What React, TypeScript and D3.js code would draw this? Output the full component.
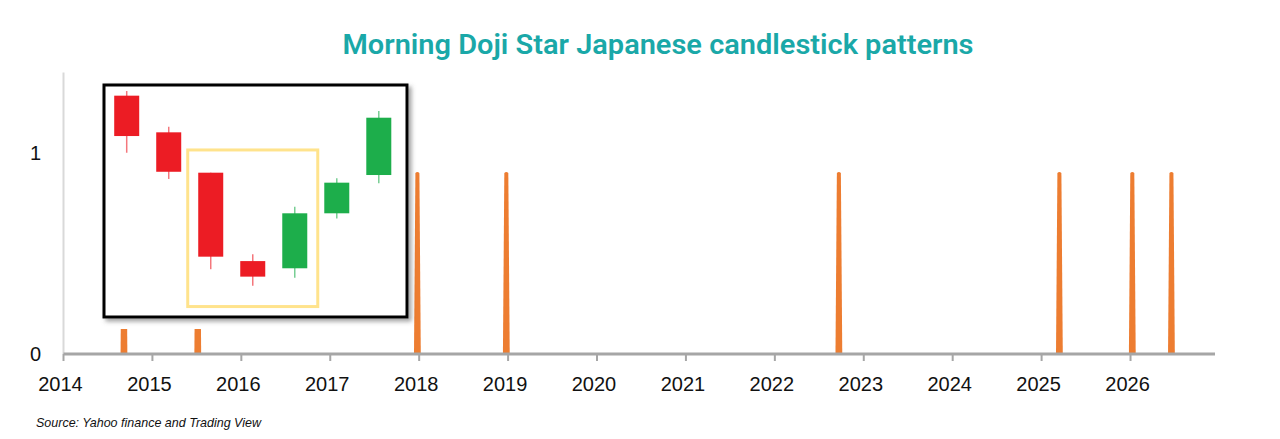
import React, { useRef, useEffect } from 'react';
import * as d3 from 'd3';

// signal dates (decimal years) and their values
const signalDates = [2014.68, 2015.51, 2017.98, 2018.98, 2022.72, 2025.2, 2026.02, 2026.46];
const signalValues = [0.9, 0.9, 0.9, 0.9, 0.9, 0.9, 0.9, 0.9];

const yearTicks = [2014, 2015, 2016, 2017, 2018, 2019, 2020, 2021, 2022, 2023, 2024, 2025, 2026];
const valueTicks = [0, 1];

// inset illustration: seven candles of the pattern
const candleIds = ['c1', 'c2', 'c3', 'c4', 'c5', 'c6', 'c7'];
const candleOpen = [95.4, 79.6, 62.2, 24.1, 21.0, 44.7, 61.2];
const candleHigh = [97.4, 82.0, 62.2, 27.0, 47.5, 59.8, 88.8];
const candleLow = [70.8, 59.5, 20.6, 13.5, 16.9, 42.5, 57.6];
const candleClose = [78.0, 62.6, 26.0, 17.4, 44.7, 57.9, 85.9];
const highlightCandles = ['c3', 'c5'];
const highlightRange = [4.5, 72];

const title = 'Morning Doji Star Japanese candlestick patterns';
const source = 'Source: Yahoo finance and Trading View';

export default function App(): JSX.Element {
  const divRef = useRef<HTMLDivElement>(null);
  useEffect(() => {
    const divEle = divRef.current;
    if (divEle == null) {
      return;
    }
    d3.select(divEle).selectAll('*').remove();

    const width = 1280;
    const height = 439;
    const svg = d3
      .select(divEle)
      .append('svg')
      .attr('width', width)
      .attr('height', height)
      .style('display', 'block');

    const x = d3.scaleLinear().domain([2014, 2026.95]).range([63.5, 1215]);
    const y = d3.scaleLinear().domain([0, 1.4]).range([354, 72.6]);

    // title
    svg
      .append('text')
      .attr('x', 658)
      .attr('y', 54)
      .attr('text-anchor', 'middle')
      .attr('textLength', 631)
      .attr('lengthAdjust', 'spacingAndGlyphs')
      .style('font-family', 'Roboto, "Noto Sans", sans-serif')
      .style('font-weight', 600)
      .style('font-size', '28px')
      .style('fill', '#1AA8A8')
      .text(title);

    // y axis line
    svg
      .append('line')
      .attr('x1', x(2014))
      .attr('x2', x(2014))
      .attr('y1', y(1.4))
      .attr('y2', y(0))
      .attr('stroke', '#D9D9D9')
      .attr('stroke-width', 2);

    svg
      .selectAll()
      .data(valueTicks)
      .join('text')
      .attr('x', 41)
      .attr('y', (d) => y(d))
      .attr('dy', '0.35em')
      .attr('text-anchor', 'end')
      .style('font-family', '"Liberation Sans", Arial, sans-serif')
      .style('font-size', '20px')
      .style('fill', '#111')
      .text((d) => d);

    // spikes
    const spikes = signalDates.map((d, i) => ({ date: d, value: signalValues[i] }));
    svg
      .selectAll()
      .data(spikes)
      .join('path')
      .attr('d', (d) => {
        const cx = x(d.date);
        const y0 = y(0);
        const y1 = y(d.value);
        return `M${cx - 3.4},${y0} L${cx - 2},${y1} Q${cx},${y1 - 2} ${cx + 2},${y1} L${cx + 3.4},${y0} Z`;
      })
      .attr('fill', '#ED7D31');

    // x axis
    svg
      .append('line')
      .attr('x1', x(2014))
      .attr('x2', x(2026.95))
      .attr('y1', y(0))
      .attr('y2', y(0))
      .attr('stroke', '#A6A6A6')
      .attr('stroke-width', 3);
    svg
      .selectAll()
      .data(yearTicks)
      .join('line')
      .attr('x1', (d) => x(d))
      .attr('x2', (d) => x(d))
      .attr('y1', y(0))
      .attr('y2', y(0) + 7)
      .attr('stroke', '#A6A6A6')
      .attr('stroke-width', 2);
    svg
      .selectAll()
      .data(yearTicks)
      .join('text')
      .attr('x', (d) => x(d) - 3)
      .attr('y', 391)
      .attr('text-anchor', 'middle')
      .style('font-family', '"Liberation Sans", Arial, sans-serif')
      .style('font-size', '20px')
      .style('fill', '#111')
      .text((d) => d);

    // inset picture of the pattern
    const defs = svg.append('defs');
    const shadow = defs.append('filter').attr('id', 'inset-shadow').attr('x', '-5%').attr('y', '-5%').attr('width', '115%').attr('height', '115%');
    shadow
      .append('feDropShadow')
      .attr('dx', 3)
      .attr('dy', 3)
      .attr('stdDeviation', 2)
      .attr('flood-color', '#555')
      .attr('flood-opacity', 0.55);

    const box = { left: 104, top: 85, right: 407, bottom: 317 };
    svg
      .append('rect')
      .attr('x', box.left - 6)
      .attr('y', box.top - 8)
      .attr('width', box.right - box.left + 10)
      .attr('height', 329 - box.top + 8)
      .attr('fill', '#fff');
    svg
      .append('rect')
      .attr('x', box.left)
      .attr('y', box.top)
      .attr('width', box.right - box.left)
      .attr('height', box.bottom - box.top)
      .attr('fill', '#fff')
      .attr('stroke', '#000')
      .attr('stroke-width', 3)
      .attr('filter', 'url(#inset-shadow)');

    const cx = d3.scalePoint().domain(candleIds).range([105.7, 399.8]).padding(0.5);
    const cy = d3.scaleLinear().domain([0, 100]).range([box.bottom, box.top]);
    const bodyWidth = 25;

    // highlight frame round the three pattern candles
    svg
      .append('rect')
      .attr('x', (cx(highlightCandles[0]) as number) - 23)
      .attr('y', cy(highlightRange[1]))
      .attr('width', (cx(highlightCandles[1]) as number) - (cx(highlightCandles[0]) as number) + 46)
      .attr('height', cy(highlightRange[0]) - cy(highlightRange[1]))
      .attr('fill', 'none')
      .attr('stroke', '#FFE38C')
      .attr('stroke-width', 3);

    const candles = candleIds.map((id, i) => ({
      id,
      open: candleOpen[i],
      high: candleHigh[i],
      low: candleLow[i],
      close: candleClose[i]
    }));
    const colorOf = (d: { open: number; close: number }) => (d.close < d.open ? '#EC1C24' : '#1DAE4B');

    svg
      .selectAll()
      .data(candles)
      .join('line')
      .attr('x1', (d) => cx(d.id) as number)
      .attr('x2', (d) => cx(d.id) as number)
      .attr('y1', (d) => cy(d.high))
      .attr('y2', (d) => cy(d.low))
      .attr('stroke', colorOf)
      .attr('stroke-opacity', 0.6)
      .attr('stroke-width', 1.5);
    svg
      .selectAll()
      .data(candles)
      .join('rect')
      .attr('x', (d) => (cx(d.id) as number) - bodyWidth / 2)
      .attr('y', (d) => cy(Math.max(d.open, d.close)))
      .attr('width', bodyWidth)
      .attr('height', (d) => Math.abs(cy(d.open) - cy(d.close)))
      .attr('fill', colorOf);

    // source note
    svg
      .append('text')
      .attr('x', 36)
      .attr('y', 427)
      .attr('textLength', 225)
      .attr('lengthAdjust', 'spacingAndGlyphs')
      .style('font-family', '"Liberation Sans", Arial, sans-serif')
      .style('font-style', 'italic')
      .style('font-size', '13px')
      .style('fill', '#111')
      .text(source);
  }, []);
  return <div ref={divRef} style={{ position: 'absolute', left: 0, top: 0, width: 1280, height: 439 }} />;
}
